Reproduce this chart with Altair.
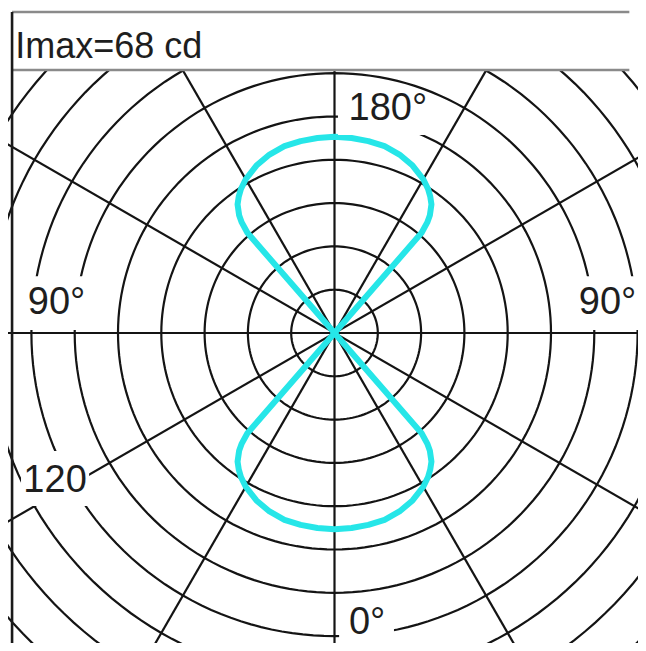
import altair as alt
import numpy as np
import pandas as pd

# ---------------- data ----------------
# angle from the vertical axis (deg) and luminous intensity (cd)
angle_deg = [0, 5, 10, 15, 20, 25, 30, 33, 35, 37, 39, 40, 41, 42, 45, 60, 90]
lower_right = [68, 67.8, 67.5, 67, 65.8, 64, 61.5, 59.5, 57.8, 55.8, 52.5, 50, 46, 0, 0, 0, 0]
upper_right = [68, 67.8, 67.5, 67, 65.8, 64, 61.5, 59.5, 57.8, 55.8, 52.5, 50, 46, 0, 0, 0, 0]
upper_left = [68, 67.8, 67.5, 67, 65.8, 64, 61.5, 59.5, 57.8, 55.8, 52.5, 50, 46, 0, 0, 0, 0]
lower_left = [68, 67.8, 67.5, 67, 65.8, 64, 61.5, 59.5, 57.8, 55.8, 52.5, 50, 46, 0, 0, 0, 0]

ring_cd = [15, 30, 45, 60, 75, 90, 105, 120, 135, 150, 165]
spoke_deg = [0, 30, 60, 90, 120, 150]

label_text = ["180°", "0°", "90°", "90°", "120"]
header_text = "Imax=68 cd"

# ---------------- layout ----------------
S = 43.3 / 15          # px per cd
W, H = 630, 635
CX, CY = 326.5, 325.0  # centre of the polar grid in chart pixels
XDOM = [-CX / S, (W - CX) / S]
YDOM = [-(H - CY) / S, CY / S]
HEADER_Y = 91.1
TOP_Y = 111.2
LEFT_X = -111.7

xs = alt.Scale(domain=XDOM, nice=False, zero=False)
ys = alt.Scale(domain=YDOM, nice=False, zero=False)


def X(f):
    return alt.X(f, type="quantitative", scale=xs, axis=None)


def Y(f):
    return alt.Y(f, type="quantitative", scale=ys, axis=None)


# rings
t = np.deg2rad(np.arange(0, 362, 2))
ring_rows = []
for r in ring_cd:
    for k, a in enumerate(t):
        ring_rows.append({"r": r, "k": k, "x": r * np.cos(a), "y": r * np.sin(a)})
rings_df = pd.DataFrame(ring_rows)

# spokes
L = 400
spokes_df = pd.DataFrame({
    "x": [L * np.sin(np.deg2rad(a)) for a in spoke_deg],
    "y": [L * np.cos(np.deg2rad(a)) for a in spoke_deg],
    "x2": [-L * np.sin(np.deg2rad(a)) for a in spoke_deg],
    "y2": [-L * np.cos(np.deg2rad(a)) for a in spoke_deg],
})

# curve
rows = []
o = 0
for a, v in zip(angle_deg, lower_right):
    rows.append({"o": o, "x": v * np.sin(np.deg2rad(a)), "y": -v * np.cos(np.deg2rad(a))}); o += 1
for a, v in reversed(list(zip(angle_deg, upper_right))):
    rows.append({"o": o, "x": v * np.sin(np.deg2rad(a)), "y": v * np.cos(np.deg2rad(a))}); o += 1
for a, v in zip(angle_deg, upper_left):
    rows.append({"o": o, "x": -v * np.sin(np.deg2rad(a)), "y": v * np.cos(np.deg2rad(a))}); o += 1
for a, v in reversed(list(zip(angle_deg, lower_left))):
    rows.append({"o": o, "x": -v * np.sin(np.deg2rad(a)), "y": -v * np.cos(np.deg2rad(a))}); o += 1
curve_df = pd.DataFrame(rows)

# label positions (cd units) and their white knock-out boxes
labels_df = pd.DataFrame({
    "t": label_text,
    "x": [18.5, 11.3, -96.3, 94.6, -96.8],
    "y": [77.6, -100.6, 10.4, 10.4, -51.2],
})
boxes_df = pd.DataFrame({
    "x1": [1.2, 1.6, -111.0, 84.4, -108.6],
    "x2": [31.4, 20.6, -84.0, XDOM[1], -85.0],
    "y1": [68.6, YDOM[0], 1.0, 1.0, -59.9],
    "y2": [83.1, -93.0, 19.7, 19.7, -40.9],
})

GRID = "#141414"
rings = alt.Chart(rings_df).mark_line(color=GRID, strokeWidth=2.2, clip=True).encode(
    x=X("x"), y=Y("y"), detail="r:N", order="k:Q")

spokes = alt.Chart(spokes_df).mark_rule(color=GRID, strokeWidth=2.2, clip=True).encode(
    x=X("x"), y=Y("y"), x2="x2", y2="y2")

curve = alt.Chart(curve_df).mark_line(color="#26e6e8", strokeWidth=6, strokeJoin="round",
                                      strokeCap="round", clip=True).encode(
    x=X("x"), y=Y("y"), order="o:Q")

boxes = alt.Chart(boxes_df).mark_rect(fill="white", strokeWidth=0).encode(
    x=X("x1"), x2="x2", y=Y("y1"), y2="y2")

labels = alt.Chart(labels_df).mark_text(font="Liberation Sans", fontSize=38, color="#1e1e1e",
                                        align="center", baseline="middle").encode(
    x=X("x"), y=Y("y"), text="t:N")

header_df = pd.DataFrame({"x1": [XDOM[0]], "x2": [XDOM[1]], "y1": [HEADER_Y], "y2": [YDOM[1]]})
header_bg = alt.Chart(header_df).mark_rect(fill="white", strokeWidth=0).encode(
    x=X("x1"), x2="x2", y=Y("y1"), y2="y2")

hlines_df = pd.DataFrame({"y": [HEADER_Y, TOP_Y], "x1": [LEFT_X, LEFT_X], "x2": [XDOM[1] - 3, XDOM[1] - 3]})
hlines = alt.Chart(hlines_df).mark_rule(color="#8a8a8a", strokeWidth=2.6).encode(
    x=X("x1"), x2="x2", y=Y("y"))

vline_df = pd.DataFrame({"x": [LEFT_X], "y1": [YDOM[0]], "y2": [TOP_Y]})
vline = alt.Chart(vline_df).mark_rule(color="#1a1a1a", strokeWidth=2.6).encode(
    x=X("x"), y=Y("y1"), y2="y2")

title_df = pd.DataFrame({"t": [header_text], "x": [-110.6], "y": [95.4]})
title = alt.Chart(title_df).mark_text(font="Liberation Sans", fontSize=36,
                                      color="#1e1e1e", align="left", baseline="alphabetic").encode(
    x=X("x"), y=Y("y"), text="t:N")

chart = alt.layer(rings, spokes, curve, boxes, labels, header_bg, hlines, vline, title).properties(
    width=W, height=H, padding=0, autosize="none", background="white"
).configure_view(stroke=None, strokeWidth=0)

chart.save("out.html", embed_options={"renderer": "svg", "actions": False})
